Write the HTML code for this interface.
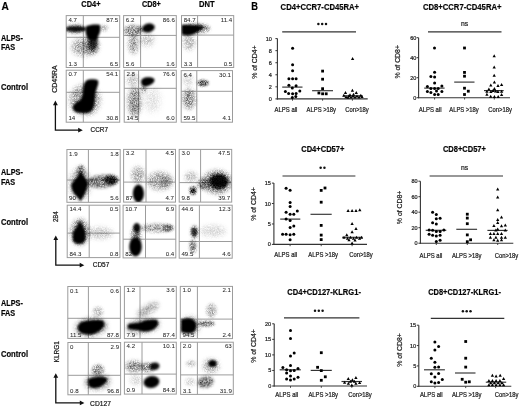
<!DOCTYPE html>
<html><head><meta charset="utf-8"><title>Figure</title>
<style>html,body{margin:0;padding:0;background:#fff;width:520px;height:407px;overflow:hidden}
svg{display:block;font-family:"Liberation Sans",sans-serif;filter:blur(0.3px)}
text{stroke:#222;stroke-width:0.22px}
text.num{stroke-width:0.05px}</style></head>
<body>
<svg width="520" height="407" viewBox="0 0 520 407" font-family="Liberation Sans, sans-serif"><defs><clipPath id="c0"><rect x="66.2" y="15.6" width="53.5" height="51.9"/></clipPath><clipPath id="c1"><rect x="123.6" y="15.6" width="52.7" height="51.9"/></clipPath><clipPath id="c2"><rect x="181.5" y="15.6" width="52.2" height="51.9"/></clipPath><clipPath id="c3"><rect x="66.2" y="70.2" width="53.5" height="52"/></clipPath><clipPath id="c4"><rect x="124.2" y="70.2" width="52.1" height="52"/></clipPath><clipPath id="c5"><rect x="181.2" y="70.6" width="51.3" height="51.6"/></clipPath><clipPath id="c6"><rect x="66.9" y="149.5" width="53.3" height="52.8"/></clipPath><clipPath id="c7"><rect x="123.6" y="149.4" width="51.9" height="52.7"/></clipPath><clipPath id="c8"><rect x="179.2" y="149.4" width="52.5" height="52.7"/></clipPath><clipPath id="c9"><rect x="67.2" y="205.2" width="52.7" height="52.4"/></clipPath><clipPath id="c10"><rect x="123.1" y="205.2" width="52.7" height="52.7"/></clipPath><clipPath id="c11"><rect x="179.2" y="205.2" width="53" height="53"/></clipPath><clipPath id="c12"><rect x="67.8" y="286.5" width="52.6" height="51.9"/></clipPath><clipPath id="c13"><rect x="124.4" y="286.4" width="51.9" height="52.2"/></clipPath><clipPath id="c14"><rect x="180.3" y="286.4" width="52.2" height="52.2"/></clipPath><clipPath id="c15"><rect x="67.9" y="342.5" width="52.7" height="52.3"/></clipPath><clipPath id="c16"><rect x="124.4" y="342.2" width="51.9" height="51.9"/></clipPath><clipPath id="c17"><rect x="180.6" y="342.2" width="52.7" height="52.2"/></clipPath><filter id="n1_0" x="-100%" y="-100%" width="300%" height="300%" color-interpolation-filters="sRGB"><feGaussianBlur in="SourceGraphic" stdDeviation="1" result="b"/><feTurbulence type="fractalNoise" baseFrequency="2.6" numOctaves="2" seed="10" result="t"/><feColorMatrix in="t" type="matrix" values="0 0 0 0 0 0 0 0 0 0 0 0 0 0 0 1.8 0 0 0 -0.3" result="ta"/><feComposite in="b" in2="ta" operator="in" result="c"/><feGaussianBlur in="c" stdDeviation="0.4"/></filter><filter id="n1_2" x="-100%" y="-100%" width="300%" height="300%" color-interpolation-filters="sRGB"><feGaussianBlur in="SourceGraphic" stdDeviation="1.2" result="b"/><feTurbulence type="fractalNoise" baseFrequency="2.6" numOctaves="2" seed="12" result="t"/><feColorMatrix in="t" type="matrix" values="0 0 0 0 0 0 0 0 0 0 0 0 0 0 0 1.8 0 0 0 -0.3" result="ta"/><feComposite in="b" in2="ta" operator="in" result="c"/><feGaussianBlur in="c" stdDeviation="0.4"/></filter><filter id="n1_3" x="-100%" y="-100%" width="300%" height="300%" color-interpolation-filters="sRGB"><feGaussianBlur in="SourceGraphic" stdDeviation="1.3" result="b"/><feTurbulence type="fractalNoise" baseFrequency="2.6" numOctaves="2" seed="13" result="t"/><feColorMatrix in="t" type="matrix" values="0 0 0 0 0 0 0 0 0 0 0 0 0 0 0 1.8 0 0 0 -0.3" result="ta"/><feComposite in="b" in2="ta" operator="in" result="c"/><feGaussianBlur in="c" stdDeviation="0.4"/></filter><filter id="n1_5" x="-100%" y="-100%" width="300%" height="300%" color-interpolation-filters="sRGB"><feGaussianBlur in="SourceGraphic" stdDeviation="1.5" result="b"/><feTurbulence type="fractalNoise" baseFrequency="2.6" numOctaves="2" seed="15" result="t"/><feColorMatrix in="t" type="matrix" values="0 0 0 0 0 0 0 0 0 0 0 0 0 0 0 1.8 0 0 0 -0.3" result="ta"/><feComposite in="b" in2="ta" operator="in" result="c"/><feGaussianBlur in="c" stdDeviation="0.4"/></filter><filter id="n1_8" x="-100%" y="-100%" width="300%" height="300%" color-interpolation-filters="sRGB"><feGaussianBlur in="SourceGraphic" stdDeviation="1.8" result="b"/><feTurbulence type="fractalNoise" baseFrequency="2.6" numOctaves="2" seed="18" result="t"/><feColorMatrix in="t" type="matrix" values="0 0 0 0 0 0 0 0 0 0 0 0 0 0 0 1.8 0 0 0 -0.3" result="ta"/><feComposite in="b" in2="ta" operator="in" result="c"/><feGaussianBlur in="c" stdDeviation="0.4"/></filter><filter id="n2_0" x="-100%" y="-100%" width="300%" height="300%" color-interpolation-filters="sRGB"><feGaussianBlur in="SourceGraphic" stdDeviation="2" result="b"/><feTurbulence type="fractalNoise" baseFrequency="2.6" numOctaves="2" seed="20" result="t"/><feColorMatrix in="t" type="matrix" values="0 0 0 0 0 0 0 0 0 0 0 0 0 0 0 1.8 0 0 0 -0.3" result="ta"/><feComposite in="b" in2="ta" operator="in" result="c"/><feGaussianBlur in="c" stdDeviation="0.4"/></filter><filter id="n2_2" x="-100%" y="-100%" width="300%" height="300%" color-interpolation-filters="sRGB"><feGaussianBlur in="SourceGraphic" stdDeviation="2.2" result="b"/><feTurbulence type="fractalNoise" baseFrequency="2.6" numOctaves="2" seed="22" result="t"/><feColorMatrix in="t" type="matrix" values="0 0 0 0 0 0 0 0 0 0 0 0 0 0 0 1.8 0 0 0 -0.3" result="ta"/><feComposite in="b" in2="ta" operator="in" result="c"/><feGaussianBlur in="c" stdDeviation="0.4"/></filter><filter id="n2_5" x="-100%" y="-100%" width="300%" height="300%" color-interpolation-filters="sRGB"><feGaussianBlur in="SourceGraphic" stdDeviation="2.5" result="b"/><feTurbulence type="fractalNoise" baseFrequency="2.6" numOctaves="2" seed="25" result="t"/><feColorMatrix in="t" type="matrix" values="0 0 0 0 0 0 0 0 0 0 0 0 0 0 0 1.8 0 0 0 -0.3" result="ta"/><feComposite in="b" in2="ta" operator="in" result="c"/><feGaussianBlur in="c" stdDeviation="0.4"/></filter><filter id="n3_0" x="-100%" y="-100%" width="300%" height="300%" color-interpolation-filters="sRGB"><feGaussianBlur in="SourceGraphic" stdDeviation="3" result="b"/><feTurbulence type="fractalNoise" baseFrequency="2.6" numOctaves="2" seed="30" result="t"/><feColorMatrix in="t" type="matrix" values="0 0 0 0 0 0 0 0 0 0 0 0 0 0 0 1.8 0 0 0 -0.3" result="ta"/><feComposite in="b" in2="ta" operator="in" result="c"/><feGaussianBlur in="c" stdDeviation="0.4"/></filter><filter id="b0_8" x="-100%" y="-100%" width="300%" height="300%"><feGaussianBlur stdDeviation="0.8"/></filter><filter id="b0_9" x="-100%" y="-100%" width="300%" height="300%"><feGaussianBlur stdDeviation="0.9"/></filter><filter id="b1_0" x="-100%" y="-100%" width="300%" height="300%"><feGaussianBlur stdDeviation="1"/></filter><filter id="b1_1" x="-100%" y="-100%" width="300%" height="300%"><feGaussianBlur stdDeviation="1.1"/></filter><filter id="b1_2" x="-100%" y="-100%" width="300%" height="300%"><feGaussianBlur stdDeviation="1.2"/></filter><filter id="b1_5" x="-100%" y="-100%" width="300%" height="300%"><feGaussianBlur stdDeviation="1.5"/></filter><filter id="b1_6" x="-100%" y="-100%" width="300%" height="300%"><feGaussianBlur stdDeviation="1.6"/></filter><filter id="b2_0" x="-100%" y="-100%" width="300%" height="300%"><feGaussianBlur stdDeviation="2"/></filter></defs><rect width="520" height="407" fill="#fff"/><g style="will-change:transform"><text x="1.6" y="9.5" font-size="11.6" font-weight="bold" text-anchor="start" fill="#000" textLength="7.3" lengthAdjust="spacingAndGlyphs">A</text>
<text x="251.2" y="9.6" font-size="11.6" font-weight="bold" text-anchor="start" fill="#000" textLength="6.7" lengthAdjust="spacingAndGlyphs">B</text>
<text x="90.9" y="7.3" font-size="8.4" font-weight="bold" text-anchor="middle" fill="#000" textLength="19.2" lengthAdjust="spacingAndGlyphs">CD4+</text>
<text x="151.3" y="7.3" font-size="8.4" font-weight="bold" text-anchor="middle" fill="#000" textLength="18.8" lengthAdjust="spacingAndGlyphs">CD8+</text>
<text x="206.8" y="7.3" font-size="8.4" font-weight="bold" text-anchor="middle" fill="#000" textLength="15.6" lengthAdjust="spacingAndGlyphs">DNT</text>
<text x="1" y="40.8" font-size="8.2" font-weight="bold" text-anchor="start" fill="#000" textLength="21.8" lengthAdjust="spacingAndGlyphs">ALPS-</text>
<text x="1" y="50.1" font-size="8.2" font-weight="bold" text-anchor="start" fill="#000" textLength="14.2" lengthAdjust="spacingAndGlyphs">FAS</text>
<text x="1" y="175.3" font-size="8.2" font-weight="bold" text-anchor="start" fill="#000" textLength="21.8" lengthAdjust="spacingAndGlyphs">ALPS-</text>
<text x="1" y="184.6" font-size="8.2" font-weight="bold" text-anchor="start" fill="#000" textLength="14.2" lengthAdjust="spacingAndGlyphs">FAS</text>
<text x="1" y="306.4" font-size="8.2" font-weight="bold" text-anchor="start" fill="#000" textLength="21.8" lengthAdjust="spacingAndGlyphs">ALPS-</text>
<text x="1" y="315.7" font-size="8.2" font-weight="bold" text-anchor="start" fill="#000" textLength="14.2" lengthAdjust="spacingAndGlyphs">FAS</text>
<text x="1" y="90.2" font-size="8.2" font-weight="bold" text-anchor="start" fill="#000" textLength="27" lengthAdjust="spacingAndGlyphs">Control</text>
<text x="1" y="225" font-size="8.2" font-weight="bold" text-anchor="start" fill="#000" textLength="27" lengthAdjust="spacingAndGlyphs">Control</text>
<text x="1" y="356.7" font-size="8.2" font-weight="bold" text-anchor="start" fill="#000" textLength="27" lengthAdjust="spacingAndGlyphs">Control</text>
<rect x="66.2" y="15.6" width="53.5" height="51.9" fill="none" stroke="#9c9c9c" stroke-width="1"/>
<line x1="83.3" y1="15.6" x2="83.3" y2="67.5" stroke="#9c9c9c" stroke-width="1"/>
<line x1="66.2" y1="37.3" x2="119.7" y2="37.3" stroke="#9c9c9c" stroke-width="1"/>
<g clip-path="url(#c0)">
<ellipse cx="83" cy="47" rx="11" ry="9" fill="#000" fill-opacity="0.45" filter="url(#n2_5)"/>
<ellipse cx="92" cy="46" rx="6.5" ry="8" fill="#000" fill-opacity="0.8" filter="url(#n2_0)"/>
<ellipse cx="75" cy="29" rx="10" ry="5" fill="#000" fill-opacity="0.45" filter="url(#n1_5)"/>
<ellipse cx="76" cy="28.9" rx="10.5" ry="3" fill="#000" fill-opacity="0.92" filter="url(#b1_0)"/>
<ellipse cx="104" cy="28" rx="4" ry="3" fill="#000" fill-opacity="0.35" filter="url(#n1_5)"/>
<ellipse cx="93" cy="43" rx="4.5" ry="6.5" fill="#000" fill-opacity="0.75" filter="url(#b1_6)"/>
<path d="M86.5 26 C90 24.5 96 24 99.5 24.8 C101 26 100.5 31 99.5 33.5 C98.5 35.5 97.5 38 97 40 C94 41.5 90 40.5 88 39 C86 36 85.3 32 85.5 28 Z" fill="#000" fill-opacity="1" filter="url(#b1_0)"/>
</g>
<text x="68.4" y="21.6" font-size="6.15" text-anchor="start" fill="#2a2a2a" class="num">4.7</text>
<text x="118.2" y="21.6" font-size="6.15" text-anchor="end" fill="#2a2a2a" class="num">87.5</text>
<text x="68.4" y="65.6" font-size="6.15" text-anchor="start" fill="#2a2a2a" class="num">1.3</text>
<text x="118.2" y="65.6" font-size="6.15" text-anchor="end" fill="#2a2a2a" class="num">6.5</text>
<rect x="123.6" y="15.6" width="52.7" height="51.9" fill="none" stroke="#9c9c9c" stroke-width="1"/>
<line x1="140.6" y1="15.6" x2="140.6" y2="67.5" stroke="#9c9c9c" stroke-width="1"/>
<line x1="123.6" y1="35.4" x2="176.3" y2="35.4" stroke="#9c9c9c" stroke-width="1"/>
<g clip-path="url(#c1)">
<ellipse cx="133" cy="30.5" rx="9" ry="5.5" fill="#000" fill-opacity="0.6" filter="url(#n1_8)"/>
<ellipse cx="133.5" cy="44" rx="4.5" ry="10" fill="#000" fill-opacity="0.55" filter="url(#n2_0)"/>
<ellipse cx="147" cy="40" rx="7" ry="6" fill="#000" fill-opacity="0.3" filter="url(#n2_5)"/>
<ellipse cx="140" cy="29" rx="4" ry="3" fill="#000" fill-opacity="0.5" filter="url(#n1_5)"/>
<ellipse cx="148.4" cy="28" rx="6.5" ry="4.4" fill="#000" fill-opacity="1" filter="url(#b0_9)" transform="rotate(-15 148.4 28)"/>
</g>
<text x="125.8" y="21.6" font-size="6.15" text-anchor="start" fill="#2a2a2a" class="num">6.2</text>
<text x="174.8" y="21.6" font-size="6.15" text-anchor="end" fill="#2a2a2a" class="num">86.6</text>
<text x="125.8" y="65.6" font-size="6.15" text-anchor="start" fill="#2a2a2a" class="num">5.6</text>
<text x="174.8" y="65.6" font-size="6.15" text-anchor="end" fill="#2a2a2a" class="num">1.6</text>
<rect x="181.5" y="15.6" width="52.2" height="51.9" fill="none" stroke="#9c9c9c" stroke-width="1"/>
<line x1="197.6" y1="15.6" x2="197.6" y2="67.5" stroke="#9c9c9c" stroke-width="1"/>
<line x1="181.5" y1="35.1" x2="233.7" y2="35.1" stroke="#9c9c9c" stroke-width="1"/>
<g clip-path="url(#c2)">
<ellipse cx="196" cy="28.5" rx="14" ry="5" fill="#000" fill-opacity="0.6" filter="url(#n1_8)"/>
<ellipse cx="189" cy="42" rx="6" ry="8" fill="#000" fill-opacity="0.35" filter="url(#n2_0)"/>
<path d="M181.6 24.8 C188 24.5 195 24.8 201 25.6 C204 26.5 205 27.5 203 28.5 C200 30 198 31.5 196 33 C193 34.5 190 35.3 187.8 35.5 C184 35.3 182 34.5 181.6 33.9 Z" fill="#000" fill-opacity="1" filter="url(#b1_1)"/>
</g>
<text x="183.7" y="21.6" font-size="6.15" text-anchor="start" fill="#2a2a2a" class="num">84.7</text>
<text x="232.2" y="21.6" font-size="6.15" text-anchor="end" fill="#2a2a2a" class="num">11.4</text>
<text x="183.7" y="65.6" font-size="6.15" text-anchor="start" fill="#2a2a2a" class="num">3.3</text>
<text x="232.2" y="65.6" font-size="6.15" text-anchor="end" fill="#2a2a2a" class="num">0.5</text>
<rect x="66.2" y="70.2" width="53.5" height="52" fill="none" stroke="#9c9c9c" stroke-width="1"/>
<line x1="83.3" y1="70.2" x2="83.3" y2="122.2" stroke="#9c9c9c" stroke-width="1"/>
<line x1="66.2" y1="92.3" x2="119.7" y2="92.3" stroke="#9c9c9c" stroke-width="1"/>
<g clip-path="url(#c3)">
<ellipse cx="85" cy="100" rx="15" ry="15" fill="#000" fill-opacity="0.5" filter="url(#n2_5)"/>
<path d="M84.5 83 C85.5 81 87 80 88 79.8 C90 79.3 92 79.2 94 79.3 C96 79.5 97.5 79.8 98 80.5 C98.6 82 98.3 84 97.8 85.5 C97 87.5 96.2 89.5 95.8 91.5 C95.3 95 95 99 94.6 102.5 C94.2 106 93.5 108.5 92 110.5 C90 112.5 88 113 86 113.2 C83 113.4 80 113.2 77.5 112.6 C75.5 112 74 111 73.3 109.8 C72.5 108 72.6 106 74 104.5 C75.5 102.8 78 101.3 80 100 C81.5 98.5 82.4 96 82.8 93 C83.1 90 83.3 87 83.6 85 Z" fill="#000" fill-opacity="1" filter="url(#b1_0)"/>
</g>
<text x="68.4" y="76.2" font-size="6.15" text-anchor="start" fill="#2a2a2a" class="num">0.7</text>
<text x="118.2" y="76.2" font-size="6.15" text-anchor="end" fill="#2a2a2a" class="num">54.1</text>
<text x="68.4" y="120.3" font-size="6.15" text-anchor="start" fill="#2a2a2a" class="num">14</text>
<text x="118.2" y="120.3" font-size="6.15" text-anchor="end" fill="#2a2a2a" class="num">30.8</text>
<rect x="124.2" y="70.2" width="52.1" height="52" fill="none" stroke="#9c9c9c" stroke-width="1"/>
<line x1="138.6" y1="70.2" x2="138.6" y2="122.2" stroke="#9c9c9c" stroke-width="1"/>
<line x1="124.2" y1="88.3" x2="176.3" y2="88.3" stroke="#9c9c9c" stroke-width="1"/>
<g clip-path="url(#c4)">
<ellipse cx="133" cy="80" rx="6" ry="6" fill="#000" fill-opacity="0.3" filter="url(#n2_0)"/>
<ellipse cx="134.5" cy="102" rx="6.5" ry="15" fill="#000" fill-opacity="0.55" filter="url(#n2_2)"/>
<ellipse cx="134.5" cy="103" rx="2.5" ry="11" fill="#000" fill-opacity="0.2" filter="url(#b2_0)"/>
<ellipse cx="143.5" cy="89" rx="3" ry="4" fill="#000" fill-opacity="0.5" filter="url(#n1_5)"/>
<ellipse cx="152" cy="100" rx="8" ry="12" fill="#000" fill-opacity="0.15" filter="url(#n3_0)"/>
<path d="M141.2 80.5 C142 78.5 144.5 77.5 147 77.3 C150 77 153 77.5 154.3 79 C155 80.5 154 82.5 152.5 83.5 C150.5 85 148 86 145.5 86.5 C143.5 86.8 142 85.5 141.5 84 C141 82.8 141 81.5 141.2 80.5 Z" fill="#000" fill-opacity="1" filter="url(#b0_9)"/>
</g>
<text x="126.4" y="76.2" font-size="6.15" text-anchor="start" fill="#2a2a2a" class="num">2.8</text>
<text x="174.8" y="76.2" font-size="6.15" text-anchor="end" fill="#2a2a2a" class="num">76.6</text>
<text x="126.4" y="120.3" font-size="6.15" text-anchor="start" fill="#2a2a2a" class="num">14.5</text>
<text x="174.8" y="120.3" font-size="6.15" text-anchor="end" fill="#2a2a2a" class="num">6.0</text>
<rect x="181.2" y="70.6" width="51.3" height="51.6" fill="none" stroke="#9c9c9c" stroke-width="1"/>
<line x1="196.8" y1="70.6" x2="196.8" y2="122.2" stroke="#9c9c9c" stroke-width="1"/>
<line x1="181.2" y1="91.3" x2="232.5" y2="91.3" stroke="#9c9c9c" stroke-width="1"/>
<g clip-path="url(#c5)">
<ellipse cx="203" cy="83" rx="6" ry="3.2" fill="#000" fill-opacity="0.85" filter="url(#n1_3)"/>
<ellipse cx="203" cy="83" rx="2.5" ry="1.5" fill="#000" fill-opacity="0.4" filter="url(#b1_0)"/>
<ellipse cx="189" cy="99" rx="6" ry="10" fill="#000" fill-opacity="0.65" filter="url(#n2_2)"/>
<ellipse cx="188" cy="80" rx="5" ry="6" fill="#000" fill-opacity="0.2" filter="url(#n2_0)"/>
</g>
<text x="183.4" y="76.6" font-size="6.15" text-anchor="start" fill="#2a2a2a" class="num">6.4</text>
<text x="231" y="76.6" font-size="6.15" text-anchor="end" fill="#2a2a2a" class="num">30.1</text>
<text x="183.4" y="120.3" font-size="6.15" text-anchor="start" fill="#2a2a2a" class="num">59.5</text>
<text x="231" y="120.3" font-size="6.15" text-anchor="end" fill="#2a2a2a" class="num">4.1</text>
<rect x="66.9" y="149.5" width="53.3" height="52.8" fill="none" stroke="#9c9c9c" stroke-width="1"/>
<line x1="88.4" y1="149.5" x2="88.4" y2="202.3" stroke="#9c9c9c" stroke-width="1"/>
<line x1="66.9" y1="180" x2="120.2" y2="180" stroke="#9c9c9c" stroke-width="1"/>
<g clip-path="url(#c6)">
<ellipse cx="80" cy="184" rx="10" ry="16" fill="#000" fill-opacity="0.4" filter="url(#n2_5)"/>
<ellipse cx="81" cy="172" rx="4" ry="7" fill="#000" fill-opacity="0.7" filter="url(#n1_5)"/>
<ellipse cx="102" cy="181.5" rx="15" ry="6.5" fill="#000" fill-opacity="0.8" filter="url(#n1_8)" transform="rotate(-4 102 181.5)"/>
<ellipse cx="111" cy="180" rx="7" ry="5" fill="#000" fill-opacity="0.95" filter="url(#n1_5)"/>
<ellipse cx="111" cy="180" rx="6" ry="3.5" fill="#000" fill-opacity="0.5" filter="url(#b1_5)"/>
<path d="M80.6 170.5 C81.7 173.5 83.3 175.8 85 177.3 C86.6 179.8 88.2 182.5 88.1 184.5 C87.3 188 86.2 190.3 85.2 193 C83.6 196.3 82.3 198.5 80.6 201 C78.8 198.5 76.6 196.3 73.6 193 C72.3 190.3 71 187 71.2 184.8 C72.8 181.8 75 179.3 76.9 177.3 C78.3 175.8 79.5 173.5 80.6 170.5 Z" fill="#000" fill-opacity="1" filter="url(#b0_9)"/>
</g>
<text x="69.1" y="155.5" font-size="6.15" text-anchor="start" fill="#2a2a2a" class="num">1.9</text>
<text x="118.7" y="155.5" font-size="6.15" text-anchor="end" fill="#2a2a2a" class="num">1.8</text>
<text x="69.1" y="200.4" font-size="6.15" text-anchor="start" fill="#2a2a2a" class="num">90</text>
<text x="118.7" y="200.4" font-size="6.15" text-anchor="end" fill="#2a2a2a" class="num">5.6</text>
<rect x="123.6" y="149.4" width="51.9" height="52.7" fill="none" stroke="#9c9c9c" stroke-width="1"/>
<line x1="146" y1="149.4" x2="146" y2="202.1" stroke="#9c9c9c" stroke-width="1"/>
<line x1="123.6" y1="182.1" x2="175.5" y2="182.1" stroke="#9c9c9c" stroke-width="1"/>
<g clip-path="url(#c7)">
<ellipse cx="138" cy="175" rx="6" ry="8" fill="#000" fill-opacity="0.45" filter="url(#n2_0)"/>
<ellipse cx="160" cy="181" rx="13" ry="9" fill="#000" fill-opacity="0.45" filter="url(#n2_2)"/>
<ellipse cx="165" cy="182" rx="6" ry="6" fill="#000" fill-opacity="0.3" filter="url(#n1_5)"/>
<ellipse cx="138.4" cy="193.5" rx="5.6" ry="9" fill="#000" fill-opacity="1" filter="url(#b0_9)"/>
</g>
<text x="125.8" y="155.4" font-size="6.15" text-anchor="start" fill="#2a2a2a" class="num">3.2</text>
<text x="174" y="155.4" font-size="6.15" text-anchor="end" fill="#2a2a2a" class="num">4.5</text>
<text x="125.8" y="200.2" font-size="6.15" text-anchor="start" fill="#2a2a2a" class="num">87</text>
<text x="174" y="200.2" font-size="6.15" text-anchor="end" fill="#2a2a2a" class="num">4.7</text>
<rect x="179.2" y="149.4" width="52.5" height="52.7" fill="none" stroke="#9c9c9c" stroke-width="1"/>
<line x1="200.6" y1="149.4" x2="200.6" y2="202.1" stroke="#9c9c9c" stroke-width="1"/>
<line x1="179.2" y1="182.6" x2="231.7" y2="182.6" stroke="#9c9c9c" stroke-width="1"/>
<g clip-path="url(#c8)">
<ellipse cx="217" cy="182" rx="15" ry="11.5" fill="#000" fill-opacity="0.6" filter="url(#n2_0)"/>
<ellipse cx="204" cy="184" rx="7" ry="6" fill="#000" fill-opacity="0.6" filter="url(#n1_8)"/>
<ellipse cx="191" cy="177" rx="6" ry="5" fill="#000" fill-opacity="0.35" filter="url(#n2_0)"/>
<ellipse cx="218.5" cy="181.5" rx="10" ry="8" fill="#000" fill-opacity="1" filter="url(#n1_3)"/>
<ellipse cx="219" cy="181.5" rx="8.5" ry="6.5" fill="#000" fill-opacity="0.9" filter="url(#b1_5)"/>
<ellipse cx="193" cy="190.5" rx="3.5" ry="4.2" fill="#000" fill-opacity="1" filter="url(#n1_0)"/>
<ellipse cx="193.3" cy="190.5" rx="1.8" ry="2.4" fill="#000" fill-opacity="0.6" filter="url(#b0_9)"/>
</g>
<text x="181.4" y="155.4" font-size="6.15" text-anchor="start" fill="#2a2a2a" class="num">3.0</text>
<text x="230.2" y="155.4" font-size="6.15" text-anchor="end" fill="#2a2a2a" class="num">47.5</text>
<text x="181.4" y="200.2" font-size="6.15" text-anchor="start" fill="#2a2a2a" class="num">9.8</text>
<text x="230.2" y="200.2" font-size="6.15" text-anchor="end" fill="#2a2a2a" class="num">39.7</text>
<rect x="67.2" y="205.2" width="52.7" height="52.4" fill="none" stroke="#9c9c9c" stroke-width="1"/>
<line x1="89.2" y1="205.2" x2="89.2" y2="257.6" stroke="#9c9c9c" stroke-width="1"/>
<line x1="67.2" y1="233.1" x2="119.9" y2="233.1" stroke="#9c9c9c" stroke-width="1"/>
<g clip-path="url(#c9)">
<ellipse cx="80" cy="232" rx="9" ry="13" fill="#000" fill-opacity="0.6" filter="url(#n2_0)"/>
<ellipse cx="100" cy="233" rx="13" ry="6" fill="#000" fill-opacity="0.25" filter="url(#n2_0)"/>
<path d="M79.5 220.2 C80.5 221.5 81.5 223 82.2 224.3 C83.5 227 85 230 85.6 233 C86 236 85.5 239 84.9 241.2 C83 243.5 81 244 78.8 243.9 C76.5 243.8 74.5 243 73.4 241.8 C72.5 239 72.5 236 72.8 233.7 C74 230 76 227.5 77.5 225.6 C78.3 224 79 222 79.5 220.2 Z" fill="#000" fill-opacity="1" filter="url(#b0_8)"/>
</g>
<text x="69.4" y="211.2" font-size="6.15" text-anchor="start" fill="#2a2a2a" class="num">14.4</text>
<text x="118.4" y="211.2" font-size="6.15" text-anchor="end" fill="#2a2a2a" class="num">0.5</text>
<text x="69.4" y="255.7" font-size="6.15" text-anchor="start" fill="#2a2a2a" class="num">84.3</text>
<text x="118.4" y="255.7" font-size="6.15" text-anchor="end" fill="#2a2a2a" class="num">0.8</text>
<rect x="123.1" y="205.2" width="52.7" height="52.7" fill="none" stroke="#9c9c9c" stroke-width="1"/>
<line x1="145.5" y1="205.2" x2="145.5" y2="257.9" stroke="#9c9c9c" stroke-width="1"/>
<line x1="123.1" y1="239.2" x2="175.8" y2="239.2" stroke="#9c9c9c" stroke-width="1"/>
<g clip-path="url(#c10)">
<ellipse cx="157" cy="228" rx="17" ry="4.2" fill="#000" fill-opacity="0.5" filter="url(#n1_5)"/>
<ellipse cx="168" cy="228" rx="5" ry="3.5" fill="#000" fill-opacity="0.7" filter="url(#n1_2)"/>
<ellipse cx="136" cy="236" rx="5" ry="10" fill="#000" fill-opacity="0.6" filter="url(#n1_8)"/>
<ellipse cx="136.8" cy="227.8" rx="3.6" ry="4.8" fill="#000" fill-opacity="0.95" filter="url(#b1_0)"/>
<ellipse cx="137" cy="235" rx="1.8" ry="4" fill="#000" fill-opacity="0.5" filter="url(#b1_2)"/>
<ellipse cx="135.5" cy="246.8" rx="6.3" ry="9.5" fill="#000" fill-opacity="1" filter="url(#b0_9)"/>
</g>
<text x="125.3" y="211.2" font-size="6.15" text-anchor="start" fill="#2a2a2a" class="num">10.7</text>
<text x="174.3" y="211.2" font-size="6.15" text-anchor="end" fill="#2a2a2a" class="num">6.9</text>
<text x="125.3" y="256" font-size="6.15" text-anchor="start" fill="#2a2a2a" class="num">82</text>
<text x="174.3" y="256" font-size="6.15" text-anchor="end" fill="#2a2a2a" class="num">0.4</text>
<rect x="179.2" y="205.2" width="53" height="53" fill="none" stroke="#9c9c9c" stroke-width="1"/>
<line x1="199.4" y1="205.2" x2="199.4" y2="258.2" stroke="#9c9c9c" stroke-width="1"/>
<line x1="179.2" y1="241.5" x2="232.2" y2="241.5" stroke="#9c9c9c" stroke-width="1"/>
<g clip-path="url(#c11)">
<ellipse cx="194.3" cy="232" rx="3.5" ry="6.5" fill="#000" fill-opacity="0.8" filter="url(#n1_5)"/>
<ellipse cx="194.3" cy="232" rx="2.5" ry="4" fill="#000" fill-opacity="0.8" filter="url(#b1_0)"/>
<ellipse cx="193" cy="246.5" rx="3.2" ry="6.5" fill="#000" fill-opacity="0.75" filter="url(#n1_5)"/>
<ellipse cx="213" cy="231" rx="13" ry="6" fill="#000" fill-opacity="0.18" filter="url(#n2_0)"/>
</g>
<text x="181.4" y="211.2" font-size="6.15" text-anchor="start" fill="#2a2a2a" class="num">44.6</text>
<text x="230.7" y="211.2" font-size="6.15" text-anchor="end" fill="#2a2a2a" class="num">12.3</text>
<text x="181.4" y="256.3" font-size="6.15" text-anchor="start" fill="#2a2a2a" class="num">49.5</text>
<text x="230.7" y="256.3" font-size="6.15" text-anchor="end" fill="#2a2a2a" class="num">4.6</text>
<rect x="67.8" y="286.5" width="52.6" height="51.9" fill="none" stroke="#9c9c9c" stroke-width="1"/>
<line x1="88.4" y1="286.5" x2="88.4" y2="338.4" stroke="#9c9c9c" stroke-width="1"/>
<line x1="67.8" y1="318.3" x2="120.4" y2="318.3" stroke="#9c9c9c" stroke-width="1"/>
<g clip-path="url(#c12)">
<ellipse cx="91" cy="327" rx="16" ry="9" fill="#000" fill-opacity="0.6" filter="url(#n2_0)" transform="rotate(-6 91 327)"/>
<ellipse cx="98" cy="312" rx="5" ry="5" fill="#000" fill-opacity="0.35" filter="url(#n1_8)"/>
<path d="M 77.5 327.0 C 78.5 324.7 79.9 322.8 81.7 321.9 C 85.0 320.8 88.2 320.4 91.0 320.2 C 94.8 320.0 98.5 319.8 101.3 320.1 C 103.4 320.8 104.6 322.4 104.5 324.0 C 104.1 326.6 102.2 328.9 99.9 330.6 C 97.1 332.6 93.8 334.5 90.6 334.8 C 86.8 334.8 83.6 334.1 81.3 333.1 C 78.9 331.7 77.6 329.3 77.5 327.0 Z" fill="#000" fill-opacity="1" filter="url(#b1_0)"/>
</g>
<text x="70" y="292.5" font-size="6.15" text-anchor="start" fill="#2a2a2a" class="num">0.1</text>
<text x="118.9" y="292.5" font-size="6.15" text-anchor="end" fill="#2a2a2a" class="num">0.6</text>
<text x="70" y="336.5" font-size="6.15" text-anchor="start" fill="#2a2a2a" class="num">11.5</text>
<text x="118.9" y="336.5" font-size="6.15" text-anchor="end" fill="#2a2a2a" class="num">87.8</text>
<rect x="124.4" y="286.4" width="51.9" height="52.2" fill="none" stroke="#9c9c9c" stroke-width="1"/>
<line x1="140" y1="286.4" x2="140" y2="338.6" stroke="#9c9c9c" stroke-width="1"/>
<line x1="124.4" y1="318.3" x2="176.3" y2="318.3" stroke="#9c9c9c" stroke-width="1"/>
<g clip-path="url(#c13)">
<ellipse cx="148" cy="309.5" rx="12" ry="4.5" fill="#000" fill-opacity="0.45" filter="url(#n2_0)" transform="rotate(-30 148 309.5)"/>
<ellipse cx="143" cy="326" rx="17" ry="7.5" fill="#000" fill-opacity="0.45" filter="url(#n2_0)" transform="rotate(-8 143 326)"/>
<path d="M127.5 326 C128 324.5 129 323.7 130.5 323.5 C133 323.2 137 323 140 322.3 C142 321.5 144 320.5 146.5 320 C149.5 319.4 153 319.2 155.5 319.6 C157.5 320 158.6 321.8 158.3 323.5 C157.8 325.5 156.5 327 155 328.3 C153 330 150 331.2 147 331.6 C144 331.9 141 331 138.5 330.3 C135 329.8 131 329.6 129 329 C127.8 328.3 127.4 327.2 127.5 326 Z" fill="#000" fill-opacity="1" filter="url(#b1_0)"/>
</g>
<text x="126.6" y="292.4" font-size="6.15" text-anchor="start" fill="#2a2a2a" class="num">1.2</text>
<text x="174.8" y="292.4" font-size="6.15" text-anchor="end" fill="#2a2a2a" class="num">3.6</text>
<text x="126.6" y="336.7" font-size="6.15" text-anchor="start" fill="#2a2a2a" class="num">7.9</text>
<text x="174.8" y="336.7" font-size="6.15" text-anchor="end" fill="#2a2a2a" class="num">87.4</text>
<rect x="180.3" y="286.4" width="52.2" height="52.2" fill="none" stroke="#9c9c9c" stroke-width="1"/>
<line x1="197.4" y1="286.4" x2="197.4" y2="338.6" stroke="#9c9c9c" stroke-width="1"/>
<line x1="180.3" y1="319.1" x2="232.5" y2="319.1" stroke="#9c9c9c" stroke-width="1"/>
<g clip-path="url(#c14)">
<ellipse cx="190" cy="326" rx="10" ry="10" fill="#000" fill-opacity="0.35" filter="url(#n2_0)"/>
<ellipse cx="206" cy="323.8" rx="9" ry="2.8" fill="#000" fill-opacity="0.7" filter="url(#n1_2)"/>
<ellipse cx="211.5" cy="310.5" rx="5" ry="7" fill="#000" fill-opacity="0.4" filter="url(#n1_8)"/>
<path d="M181 319.5 C184 318.5 188 318 191 318.5 C194 319.5 196.5 322 196.6 325.5 C196.5 329 195 332 192 333.1 C188 333.6 184 333 181 332 Z" fill="#000" fill-opacity="1" filter="url(#b0_9)"/>
</g>
<text x="182.5" y="292.4" font-size="6.15" text-anchor="start" fill="#2a2a2a" class="num">1.0</text>
<text x="231" y="292.4" font-size="6.15" text-anchor="end" fill="#2a2a2a" class="num">2.1</text>
<text x="182.5" y="336.7" font-size="6.15" text-anchor="start" fill="#2a2a2a" class="num">94.5</text>
<text x="231" y="336.7" font-size="6.15" text-anchor="end" fill="#2a2a2a" class="num">2.4</text>
<rect x="67.9" y="342.5" width="52.7" height="52.3" fill="none" stroke="#9c9c9c" stroke-width="1"/>
<line x1="88.3" y1="342.5" x2="88.3" y2="394.8" stroke="#9c9c9c" stroke-width="1"/>
<line x1="67.9" y1="375.3" x2="120.6" y2="375.3" stroke="#9c9c9c" stroke-width="1"/>
<g clip-path="url(#c15)">
<ellipse cx="98" cy="370" rx="6" ry="5.5" fill="#000" fill-opacity="0.6" filter="url(#n1_8)"/>
<ellipse cx="97.5" cy="382" rx="13" ry="8" fill="#000" fill-opacity="0.5" filter="url(#n2_0)" transform="rotate(-6 97.5 382)"/>
<path d="M88 379.9 C89 378.8 90.5 378.2 92.1 377.8 C95 377 98 376.6 100.4 376.5 C102.5 376.6 104.5 377 105.9 377.8 C107 378.5 107.5 379.5 107.3 380.6 C106.5 382.5 104.5 384 102.5 385.4 C100.5 386.8 98 387.8 95.6 388.1 C93 388 91 387.5 89.4 386.8 C88.3 385 87.8 382 88 379.9 Z" fill="#000" fill-opacity="1" filter="url(#b0_8)"/>
</g>
<text x="70.1" y="348.5" font-size="6.15" text-anchor="start" fill="#2a2a2a" class="num">0</text>
<text x="119.1" y="348.5" font-size="6.15" text-anchor="end" fill="#2a2a2a" class="num">2.9</text>
<text x="70.1" y="392.9" font-size="6.15" text-anchor="start" fill="#2a2a2a" class="num">0.8</text>
<text x="119.1" y="392.9" font-size="6.15" text-anchor="end" fill="#2a2a2a" class="num">96.8</text>
<rect x="124.4" y="342.2" width="51.9" height="51.9" fill="none" stroke="#9c9c9c" stroke-width="1"/>
<line x1="142" y1="342.2" x2="142" y2="394.1" stroke="#9c9c9c" stroke-width="1"/>
<line x1="124.4" y1="374.1" x2="176.3" y2="374.1" stroke="#9c9c9c" stroke-width="1"/>
<g clip-path="url(#c16)">
<ellipse cx="134" cy="366.5" rx="8" ry="5" fill="#000" fill-opacity="0.7" filter="url(#n2_0)"/>
<ellipse cx="147" cy="367.5" rx="8" ry="4.5" fill="#000" fill-opacity="0.6" filter="url(#n1_8)"/>
<ellipse cx="136" cy="380" rx="6" ry="5" fill="#000" fill-opacity="0.2" filter="url(#n2_0)"/>
<ellipse cx="154.5" cy="366.3" rx="5" ry="3.8" fill="#000" fill-opacity="0.95" filter="url(#b1_0)" transform="rotate(-10 154.5 366.3)"/>
<ellipse cx="151.5" cy="382" rx="8" ry="6" fill="#000" fill-opacity="1" filter="url(#b0_9)" transform="rotate(-10 151.5 382)"/>
</g>
<text x="126.6" y="348.2" font-size="6.15" text-anchor="start" fill="#2a2a2a" class="num">4.2</text>
<text x="174.8" y="348.2" font-size="6.15" text-anchor="end" fill="#2a2a2a" class="num">10.1</text>
<text x="126.6" y="392.2" font-size="6.15" text-anchor="start" fill="#2a2a2a" class="num">0.9</text>
<text x="174.8" y="392.2" font-size="6.15" text-anchor="end" fill="#2a2a2a" class="num">84.8</text>
<rect x="180.6" y="342.2" width="52.7" height="52.2" fill="none" stroke="#9c9c9c" stroke-width="1"/>
<line x1="197.4" y1="342.2" x2="197.4" y2="394.4" stroke="#9c9c9c" stroke-width="1"/>
<line x1="180.6" y1="374.9" x2="233.3" y2="374.9" stroke="#9c9c9c" stroke-width="1"/>
<g clip-path="url(#c17)">
<ellipse cx="211" cy="366" rx="8" ry="7" fill="#000" fill-opacity="0.4" filter="url(#n2_0)"/>
<ellipse cx="205.5" cy="382" rx="8" ry="5.5" fill="#000" fill-opacity="0.85" filter="url(#n1_5)" transform="rotate(-10 205.5 382)"/>
<ellipse cx="191" cy="363.5" rx="5" ry="3" fill="#000" fill-opacity="0.3" filter="url(#n1_8)"/>
<ellipse cx="190" cy="382" rx="5" ry="4" fill="#000" fill-opacity="0.2" filter="url(#n1_8)"/>
<ellipse cx="212.5" cy="363.6" rx="4.2" ry="3.5" fill="#000" fill-opacity="1" filter="url(#b1_0)"/>
</g>
<text x="182.8" y="348.2" font-size="6.15" text-anchor="start" fill="#2a2a2a" class="num">2.0</text>
<text x="231.8" y="348.2" font-size="6.15" text-anchor="end" fill="#2a2a2a" class="num">63</text>
<text x="182.8" y="392.5" font-size="6.15" text-anchor="start" fill="#2a2a2a" class="num">3.1</text>
<text x="231.8" y="392.5" font-size="6.15" text-anchor="end" fill="#2a2a2a" class="num">31.9</text>
<path d="M55.4 103.6 V130.2 H79.8" fill="none" stroke="#111" stroke-width="1.3"/>
<path d="M55.4 100.6 L53 105.2 L57.8 105.2 Z" fill="#111"/>
<path d="M82.8 130.2 L78.2 127.8 L78.2 132.6 Z" fill="#111"/>
<text x="57.2" y="79" font-size="6.6" text-anchor="middle" fill="#111" transform="rotate(-90 57.2 79)" textLength="27.3" lengthAdjust="spacingAndGlyphs">CD45RA</text>
<text x="90.6" y="132.3" font-size="6.9" text-anchor="start" fill="#111" textLength="17.4" lengthAdjust="spacingAndGlyphs">CCR7</text>
<path d="M55.8 238.4 V265.2 H81.3" fill="none" stroke="#111" stroke-width="1.3"/>
<path d="M55.8 235.4 L53.4 240 L58.2 240 Z" fill="#111"/>
<path d="M84.3 265.2 L79.7 262.8 L79.7 267.6 Z" fill="#111"/>
<text x="58" y="216.7" font-size="6.8" text-anchor="middle" fill="#111" transform="rotate(-90 58 216.7)" textLength="10.8" lengthAdjust="spacingAndGlyphs">2B4</text>
<text x="92.7" y="267.4" font-size="6.9" text-anchor="start" fill="#111" textLength="16.6" lengthAdjust="spacingAndGlyphs">CD57</text>
<path d="M55.8 376.2 V402.9 H81.4" fill="none" stroke="#111" stroke-width="1.3"/>
<path d="M55.8 373.2 L53.4 377.8 L58.2 377.8 Z" fill="#111"/>
<path d="M84.4 402.9 L79.8 400.5 L79.8 405.3 Z" fill="#111"/>
<text x="58.6" y="351.8" font-size="6.8" text-anchor="middle" fill="#111" transform="rotate(-90 58.6 351.8)" textLength="21.2" lengthAdjust="spacingAndGlyphs">KLRG1</text>
<text x="90.1" y="405.7" font-size="7" text-anchor="start" fill="#111" textLength="20.8" lengthAdjust="spacingAndGlyphs">CD127</text>
<text x="319.85" y="9.6" font-size="8.3" font-weight="bold" text-anchor="middle" fill="#000" textLength="78.5" lengthAdjust="spacingAndGlyphs">CD4+CCR7-CD45RA+</text>
<circle cx="318.4" cy="23.9" r="1.25" fill="#111"/>
<circle cx="322.2" cy="23.9" r="1.25" fill="#111"/>
<circle cx="326" cy="23.9" r="1.25" fill="#111"/>
<line x1="282.2" y1="31.8" x2="356" y2="31.8" stroke="#333" stroke-width="1.2"/>
<line x1="277.4" y1="38.6" x2="277.4" y2="99.4" stroke="#333" stroke-width="1.1"/>
<line x1="276.9" y1="98.9" x2="367.7" y2="98.9" stroke="#333" stroke-width="1.1"/>
<line x1="275.4" y1="98.9" x2="277.4" y2="98.9" stroke="#333" stroke-width="1"/>
<text x="271.8" y="100.9" font-size="5.5" text-anchor="end" fill="#222">0</text>
<line x1="275.4" y1="86.84" x2="277.4" y2="86.84" stroke="#333" stroke-width="1"/>
<text x="271.8" y="88.84" font-size="5.5" text-anchor="end" fill="#222">2</text>
<line x1="275.4" y1="74.78" x2="277.4" y2="74.78" stroke="#333" stroke-width="1"/>
<text x="271.8" y="76.78" font-size="5.5" text-anchor="end" fill="#222">4</text>
<line x1="275.4" y1="62.72" x2="277.4" y2="62.72" stroke="#333" stroke-width="1"/>
<text x="271.8" y="64.72" font-size="5.5" text-anchor="end" fill="#222">6</text>
<line x1="275.4" y1="50.66" x2="277.4" y2="50.66" stroke="#333" stroke-width="1"/>
<text x="271.8" y="52.66" font-size="5.5" text-anchor="end" fill="#222">8</text>
<line x1="275.4" y1="38.6" x2="277.4" y2="38.6" stroke="#333" stroke-width="1"/>
<text x="271.8" y="40.6" font-size="5.5" text-anchor="end" fill="#222">10</text>
<line x1="292.5" y1="98.9" x2="292.5" y2="100.7" stroke="#333" stroke-width="0.9"/>
<line x1="322.6" y1="98.9" x2="322.6" y2="100.7" stroke="#333" stroke-width="0.9"/>
<line x1="352.4" y1="98.9" x2="352.4" y2="100.7" stroke="#333" stroke-width="0.9"/>
<text x="256.8" y="62.1" font-size="6.9" text-anchor="middle" fill="#222" transform="rotate(-90 256.8 62.1)">% of CD4+</text>
<text x="286" y="112.3" font-size="6.4" text-anchor="middle" fill="#222" textLength="22.8" lengthAdjust="spacingAndGlyphs">ALPS all</text>
<text x="321.3" y="112.3" font-size="6.4" text-anchor="middle" fill="#222" textLength="29.5" lengthAdjust="spacingAndGlyphs">ALPS &gt;18y</text>
<text x="357" y="112.3" font-size="6.4" text-anchor="middle" fill="#222" textLength="23.6" lengthAdjust="spacingAndGlyphs">Con&gt;18y</text>
<line x1="282.2" y1="87.1" x2="302.5" y2="87.1" stroke="#333" stroke-width="1.15"/>
<line x1="312.1" y1="90.7" x2="333" y2="90.7" stroke="#333" stroke-width="1.15"/>
<line x1="343" y1="95.8" x2="362.5" y2="95.8" stroke="#333" stroke-width="1.15"/>
<circle cx="292.6" cy="48.3" r="1.5" fill="#000"/>
<circle cx="292.6" cy="64.8" r="1.5" fill="#000"/>
<circle cx="292.6" cy="70.8" r="1.5" fill="#000"/>
<circle cx="288.9" cy="78.8" r="1.5" fill="#000"/>
<circle cx="292.6" cy="78.8" r="1.5" fill="#000"/>
<circle cx="296.1" cy="78.8" r="1.5" fill="#000"/>
<circle cx="288.9" cy="85.2" r="1.5" fill="#000"/>
<circle cx="296.1" cy="85.8" r="1.5" fill="#000"/>
<circle cx="292.3" cy="88" r="1.5" fill="#000"/>
<circle cx="285.4" cy="91.4" r="1.5" fill="#000"/>
<circle cx="299.8" cy="91.1" r="1.5" fill="#000"/>
<circle cx="288.6" cy="93.5" r="1.5" fill="#000"/>
<circle cx="292.6" cy="93.8" r="1.5" fill="#000"/>
<circle cx="296.1" cy="93.5" r="1.5" fill="#000"/>
<circle cx="292.3" cy="97.6" r="1.5" fill="#000"/>
<circle cx="295.8" cy="96.4" r="1.5" fill="#000"/>
<rect x="321.2" y="69.7" width="2.8" height="2.8" fill="#000"/>
<rect x="321.2" y="77.8" width="2.8" height="2.8" fill="#000"/>
<rect x="321.2" y="87.3" width="2.8" height="2.8" fill="#000"/>
<rect x="317.5" y="91.6" width="2.8" height="2.8" fill="#000"/>
<rect x="321.2" y="92.4" width="2.8" height="2.8" fill="#000"/>
<rect x="324.8" y="92.4" width="2.8" height="2.8" fill="#000"/>
<path d="M352.6 57.02 L350.95 59.99 L354.25 59.99 Z" fill="#000"/>
<path d="M352.4 88.82 L350.75 91.79 L354.05 91.79 Z" fill="#000"/>
<path d="M345.5 90.92 L343.85 93.89 L347.15 93.89 Z" fill="#000"/>
<path d="M356.3 91.12 L354.65 94.09 L357.95 94.09 Z" fill="#000"/>
<path d="M343.8 93.72 L342.15 96.69 L345.45 96.69 Z" fill="#000"/>
<path d="M360.8 93.72 L359.15 96.69 L362.45 96.69 Z" fill="#000"/>
<path d="M346 95.22 L344.35 98.19 L347.65 98.19 Z" fill="#000"/>
<path d="M349 94.22 L347.35 97.19 L350.65 97.19 Z" fill="#000"/>
<path d="M351 95.52 L349.35 98.49 L352.65 98.49 Z" fill="#000"/>
<path d="M353 94.42 L351.35 97.39 L354.65 97.39 Z" fill="#000"/>
<path d="M355 95.52 L353.35 98.49 L356.65 98.49 Z" fill="#000"/>
<path d="M357 94.52 L355.35 97.49 L358.65 97.49 Z" fill="#000"/>
<path d="M359 95.42 L357.35 98.39 L360.65 98.39 Z" fill="#000"/>
<path d="M348 95.82 L346.35 98.79 L349.65 98.79 Z" fill="#000"/>
<path d="M353.5 92.72 L351.85 95.69 L355.15 95.69 Z" fill="#000"/>
<path d="M362 95.02 L360.35 97.99 L363.65 97.99 Z" fill="#000"/>
<path d="M350 93.22 L348.35 96.19 L351.65 96.19 Z" fill="#000"/>
<text x="462.2" y="9.6" font-size="8.3" font-weight="bold" text-anchor="middle" fill="#000" textLength="78.6" lengthAdjust="spacingAndGlyphs">CD8+CCR7-CD45RA+</text>
<text x="464.6" y="25.6" font-size="6.8" text-anchor="middle" fill="#222">ns</text>
<line x1="428" y1="31.9" x2="501.5" y2="31.9" stroke="#333" stroke-width="1.2"/>
<line x1="418.6" y1="37.7" x2="418.6" y2="98.2" stroke="#333" stroke-width="1.1"/>
<line x1="418.1" y1="97.7" x2="510" y2="97.7" stroke="#333" stroke-width="1.1"/>
<line x1="416.6" y1="97.7" x2="418.6" y2="97.7" stroke="#333" stroke-width="1"/>
<text x="416.4" y="99.7" font-size="5.5" text-anchor="end" fill="#222">0</text>
<line x1="416.6" y1="77.7" x2="418.6" y2="77.7" stroke="#333" stroke-width="1"/>
<text x="416.4" y="79.7" font-size="5.5" text-anchor="end" fill="#222">20</text>
<line x1="416.6" y1="57.7" x2="418.6" y2="57.7" stroke="#333" stroke-width="1"/>
<text x="416.4" y="59.7" font-size="5.5" text-anchor="end" fill="#222">40</text>
<line x1="416.6" y1="37.7" x2="418.6" y2="37.7" stroke="#333" stroke-width="1"/>
<text x="416.4" y="39.7" font-size="5.5" text-anchor="end" fill="#222">60</text>
<line x1="434.6" y1="97.7" x2="434.6" y2="99.5" stroke="#333" stroke-width="0.9"/>
<line x1="464.6" y1="97.7" x2="464.6" y2="99.5" stroke="#333" stroke-width="0.9"/>
<line x1="494.3" y1="97.7" x2="494.3" y2="99.5" stroke="#333" stroke-width="0.9"/>
<text x="400.5" y="61.8" font-size="6.9" text-anchor="middle" fill="#222" transform="rotate(-90 400.5 61.8)">% of CD8+</text>
<text x="430.1" y="111.6" font-size="6.4" text-anchor="middle" fill="#222" textLength="22.8" lengthAdjust="spacingAndGlyphs">ALPS all</text>
<text x="464" y="111.6" font-size="6.4" text-anchor="middle" fill="#222" textLength="29.5" lengthAdjust="spacingAndGlyphs">ALPS &gt;18y</text>
<text x="500.1" y="111.6" font-size="6.4" text-anchor="middle" fill="#222" textLength="23.6" lengthAdjust="spacingAndGlyphs">Con&gt;18y</text>
<line x1="424.2" y1="88.1" x2="444.6" y2="88.1" stroke="#333" stroke-width="1.15"/>
<line x1="454.2" y1="82.1" x2="474.5" y2="82.1" stroke="#333" stroke-width="1.15"/>
<line x1="484" y1="90.6" x2="503.7" y2="90.6" stroke="#333" stroke-width="1.15"/>
<circle cx="434.5" cy="48" r="1.5" fill="#000"/>
<circle cx="434.6" cy="72.3" r="1.5" fill="#000"/>
<circle cx="430.9" cy="76.4" r="1.5" fill="#000"/>
<circle cx="434.6" cy="76.9" r="1.5" fill="#000"/>
<circle cx="434.6" cy="83" r="1.5" fill="#000"/>
<circle cx="427.4" cy="86.5" r="1.5" fill="#000"/>
<circle cx="441.9" cy="85.9" r="1.5" fill="#000"/>
<circle cx="430.9" cy="88.6" r="1.5" fill="#000"/>
<circle cx="434.6" cy="88.6" r="1.5" fill="#000"/>
<circle cx="438.2" cy="88.4" r="1.5" fill="#000"/>
<circle cx="436.5" cy="90.9" r="1.5" fill="#000"/>
<circle cx="427.4" cy="91.5" r="1.5" fill="#000"/>
<circle cx="430.9" cy="92.6" r="1.5" fill="#000"/>
<circle cx="441.9" cy="91.5" r="1.5" fill="#000"/>
<circle cx="434.6" cy="94.4" r="1.5" fill="#000"/>
<circle cx="438.2" cy="94.4" r="1.5" fill="#000"/>
<rect x="463.1" y="46.6" width="2.8" height="2.8" fill="#000"/>
<rect x="463.1" y="71" width="2.8" height="2.8" fill="#000"/>
<rect x="463.1" y="74.8" width="2.8" height="2.8" fill="#000"/>
<rect x="463.1" y="86.8" width="2.8" height="2.8" fill="#000"/>
<rect x="466.9" y="89.8" width="2.8" height="2.8" fill="#000"/>
<rect x="463.1" y="93.1" width="2.8" height="2.8" fill="#000"/>
<path d="M494.2 54.32 L492.55 57.29 L495.85 57.29 Z" fill="#000"/>
<path d="M494.2 65.62 L492.55 68.59 L495.85 68.59 Z" fill="#000"/>
<path d="M494.2 73.72 L492.55 76.69 L495.85 76.69 Z" fill="#000"/>
<path d="M494.4 80.52 L492.75 83.49 L496.05 83.49 Z" fill="#000"/>
<path d="M490.8 83.42 L489.15 86.39 L492.45 86.39 Z" fill="#000"/>
<path d="M498 84.02 L496.35 86.99 L499.65 86.99 Z" fill="#000"/>
<path d="M501.6 83.12 L499.95 86.09 L503.25 86.09 Z" fill="#000"/>
<path d="M488.9 87.52 L487.25 90.49 L490.55 90.49 Z" fill="#000"/>
<path d="M494.4 86.92 L492.75 89.89 L496.05 89.89 Z" fill="#000"/>
<path d="M486.9 89.82 L485.25 92.79 L488.55 92.79 Z" fill="#000"/>
<path d="M490.9 90.02 L489.25 92.99 L492.55 92.99 Z" fill="#000"/>
<path d="M493 88.92 L491.35 91.89 L494.65 91.89 Z" fill="#000"/>
<path d="M495.6 89.52 L493.95 92.49 L497.25 92.49 Z" fill="#000"/>
<path d="M497.9 90.02 L496.25 92.99 L499.55 92.99 Z" fill="#000"/>
<path d="M501.6 89.82 L499.95 92.79 L503.25 92.79 Z" fill="#000"/>
<path d="M486.9 92.72 L485.25 95.69 L488.55 95.69 Z" fill="#000"/>
<path d="M501.6 92.92 L499.95 95.89 L503.25 95.89 Z" fill="#000"/>
<path d="M490.7 94.72 L489.05 97.69 L492.35 97.69 Z" fill="#000"/>
<path d="M494.4 95.02 L492.75 97.99 L496.05 97.99 Z" fill="#000"/>
<path d="M498.2 95.02 L496.55 97.99 L499.85 97.99 Z" fill="#000"/>
<text x="322.8" y="151.5" font-size="8.3" font-weight="bold" text-anchor="middle" fill="#000" textLength="43.2" lengthAdjust="spacingAndGlyphs">CD4+CD57+</text>
<circle cx="320.65" cy="167.7" r="1.25" fill="#111"/>
<circle cx="324.45" cy="167.7" r="1.25" fill="#111"/>
<line x1="282.5" y1="176" x2="355.4" y2="176" stroke="#333" stroke-width="1.2"/>
<line x1="273.9" y1="183.1" x2="273.9" y2="244.9" stroke="#333" stroke-width="1.1"/>
<line x1="273.4" y1="244.4" x2="367" y2="244.4" stroke="#333" stroke-width="1.1"/>
<line x1="271.9" y1="244.4" x2="273.9" y2="244.4" stroke="#333" stroke-width="1"/>
<text x="270.9" y="246.4" font-size="5.5" text-anchor="end" fill="#222">0</text>
<line x1="271.9" y1="223.97" x2="273.9" y2="223.97" stroke="#333" stroke-width="1"/>
<text x="270.9" y="225.97" font-size="5.5" text-anchor="end" fill="#222">5</text>
<line x1="271.9" y1="203.53" x2="273.9" y2="203.53" stroke="#333" stroke-width="1"/>
<text x="270.9" y="205.53" font-size="5.5" text-anchor="end" fill="#222">10</text>
<line x1="271.9" y1="183.1" x2="273.9" y2="183.1" stroke="#333" stroke-width="1"/>
<text x="270.9" y="185.1" font-size="5.5" text-anchor="end" fill="#222">15</text>
<line x1="290.1" y1="244.4" x2="290.1" y2="246.2" stroke="#333" stroke-width="0.9"/>
<line x1="321.2" y1="244.4" x2="321.2" y2="246.2" stroke="#333" stroke-width="0.9"/>
<line x1="352.1" y1="244.4" x2="352.1" y2="246.2" stroke="#333" stroke-width="0.9"/>
<text x="256.2" y="204" font-size="6.9" text-anchor="middle" fill="#222" transform="rotate(-90 256.2 204)">% of CD4+</text>
<text x="285.7" y="256.8" font-size="6.4" text-anchor="middle" fill="#222" textLength="22.8" lengthAdjust="spacingAndGlyphs">ALPS all</text>
<text x="323.1" y="256.8" font-size="6.4" text-anchor="middle" fill="#222" textLength="29.5" lengthAdjust="spacingAndGlyphs">ALPS &gt;18y</text>
<text x="361" y="256.8" font-size="6.4" text-anchor="middle" fill="#222" textLength="23.6" lengthAdjust="spacingAndGlyphs">Con&gt;18y</text>
<line x1="280.2" y1="219.1" x2="300.3" y2="219.1" stroke="#333" stroke-width="1.15"/>
<line x1="310.5" y1="214.3" x2="331.7" y2="214.3" stroke="#333" stroke-width="1.15"/>
<line x1="342.1" y1="237.3" x2="362.6" y2="237.3" stroke="#333" stroke-width="1.15"/>
<circle cx="286.1" cy="188.3" r="1.5" fill="#000"/>
<circle cx="290.1" cy="190.2" r="1.5" fill="#000"/>
<circle cx="290.1" cy="202.4" r="1.5" fill="#000"/>
<circle cx="290.1" cy="206.4" r="1.5" fill="#000"/>
<circle cx="286.1" cy="212.3" r="1.5" fill="#000"/>
<circle cx="297.3" cy="210.9" r="1.5" fill="#000"/>
<circle cx="290.1" cy="214.2" r="1.5" fill="#000"/>
<circle cx="293.8" cy="214.2" r="1.5" fill="#000"/>
<circle cx="286.1" cy="219.1" r="1.5" fill="#000"/>
<circle cx="290.1" cy="220.5" r="1.5" fill="#000"/>
<circle cx="290.1" cy="227.4" r="1.5" fill="#000"/>
<circle cx="293.8" cy="226" r="1.5" fill="#000"/>
<circle cx="282.6" cy="234.3" r="1.5" fill="#000"/>
<circle cx="286.1" cy="234.3" r="1.5" fill="#000"/>
<circle cx="290.1" cy="234.8" r="1.5" fill="#000"/>
<circle cx="293.8" cy="234.3" r="1.5" fill="#000"/>
<circle cx="290.1" cy="239.8" r="1.5" fill="#000"/>
<rect x="319.8" y="189" width="2.8" height="2.8" fill="#000"/>
<rect x="323.6" y="186.6" width="2.8" height="2.8" fill="#000"/>
<rect x="319.8" y="200.8" width="2.8" height="2.8" fill="#000"/>
<rect x="319.8" y="224" width="2.8" height="2.8" fill="#000"/>
<rect x="319.8" y="233.7" width="2.8" height="2.8" fill="#000"/>
<rect x="319.8" y="238.2" width="2.8" height="2.8" fill="#000"/>
<path d="M348.1 209.12 L346.45 212.09 L349.75 212.09 Z" fill="#000"/>
<path d="M352.1 209.12 L350.45 212.09 L353.75 212.09 Z" fill="#000"/>
<path d="M356 209.12 L354.35 212.09 L357.65 212.09 Z" fill="#000"/>
<path d="M359.8 208.32 L358.15 211.29 L361.45 211.29 Z" fill="#000"/>
<path d="M352.1 222.02 L350.45 224.99 L353.75 224.99 Z" fill="#000"/>
<path d="M356 227.02 L354.35 229.99 L357.65 229.99 Z" fill="#000"/>
<path d="M352.1 230.32 L350.45 233.29 L353.75 233.29 Z" fill="#000"/>
<path d="M346.8 233.32 L345.15 236.29 L348.45 236.29 Z" fill="#000"/>
<path d="M344 235.72 L342.35 238.69 L345.65 238.69 Z" fill="#000"/>
<path d="M347.5 236.72 L345.85 239.69 L349.15 239.69 Z" fill="#000"/>
<path d="M350.5 235.72 L348.85 238.69 L352.15 238.69 Z" fill="#000"/>
<path d="M353.5 236.72 L351.85 239.69 L355.15 239.69 Z" fill="#000"/>
<path d="M356.5 235.72 L354.85 238.69 L358.15 238.69 Z" fill="#000"/>
<path d="M359.5 236.72 L357.85 239.69 L361.15 239.69 Z" fill="#000"/>
<path d="M361.5 235.72 L359.85 238.69 L363.15 238.69 Z" fill="#000"/>
<path d="M352.1 241.42 L350.45 244.39 L353.75 244.39 Z" fill="#000"/>
<path d="M349 238.22 L347.35 241.19 L350.65 241.19 Z" fill="#000"/>
<path d="M355 238.42 L353.35 241.39 L356.65 241.39 Z" fill="#000"/>
<text x="464.4" y="151.7" font-size="8.3" font-weight="bold" text-anchor="middle" fill="#000" textLength="43" lengthAdjust="spacingAndGlyphs">CD8+CD57+</text>
<text x="464.5" y="169.8" font-size="6.8" text-anchor="middle" fill="#222">ns</text>
<line x1="429.6" y1="176" x2="503" y2="176" stroke="#333" stroke-width="1.2"/>
<line x1="420.4" y1="181.2" x2="420.4" y2="243.7" stroke="#333" stroke-width="1.1"/>
<line x1="419.9" y1="243.2" x2="513.3" y2="243.2" stroke="#333" stroke-width="1.1"/>
<line x1="418.4" y1="243.2" x2="420.4" y2="243.2" stroke="#333" stroke-width="1"/>
<text x="417.6" y="245.2" font-size="5.5" text-anchor="end" fill="#222">0</text>
<line x1="418.4" y1="227.7" x2="420.4" y2="227.7" stroke="#333" stroke-width="1"/>
<text x="417.6" y="229.7" font-size="5.5" text-anchor="end" fill="#222">20</text>
<line x1="418.4" y1="212.2" x2="420.4" y2="212.2" stroke="#333" stroke-width="1"/>
<text x="417.6" y="214.2" font-size="5.5" text-anchor="end" fill="#222">40</text>
<line x1="418.4" y1="196.7" x2="420.4" y2="196.7" stroke="#333" stroke-width="1"/>
<text x="417.6" y="198.7" font-size="5.5" text-anchor="end" fill="#222">60</text>
<line x1="418.4" y1="181.2" x2="420.4" y2="181.2" stroke="#333" stroke-width="1"/>
<text x="417.6" y="183.2" font-size="5.5" text-anchor="end" fill="#222">80</text>
<line x1="436.3" y1="243.2" x2="436.3" y2="245" stroke="#333" stroke-width="0.9"/>
<line x1="467.3" y1="243.2" x2="467.3" y2="245" stroke="#333" stroke-width="0.9"/>
<line x1="497.7" y1="243.2" x2="497.7" y2="245" stroke="#333" stroke-width="0.9"/>
<text x="402" y="207.4" font-size="6.9" text-anchor="middle" fill="#222" transform="rotate(-90 402 207.4)">% of CD8+</text>
<text x="430.9" y="257.8" font-size="6.4" text-anchor="middle" fill="#222" textLength="22.8" lengthAdjust="spacingAndGlyphs">ALPS all</text>
<text x="466.7" y="257.8" font-size="6.4" text-anchor="middle" fill="#222" textLength="29.5" lengthAdjust="spacingAndGlyphs">ALPS &gt;18y</text>
<text x="506.5" y="257.8" font-size="6.4" text-anchor="middle" fill="#222" textLength="23.6" lengthAdjust="spacingAndGlyphs">Con&gt;18y</text>
<line x1="425.7" y1="230.3" x2="446.3" y2="230.3" stroke="#333" stroke-width="1.15"/>
<line x1="456.3" y1="229.3" x2="477.1" y2="229.3" stroke="#333" stroke-width="1.15"/>
<line x1="487.4" y1="230.4" x2="507.6" y2="230.4" stroke="#333" stroke-width="1.15"/>
<circle cx="432.6" cy="212.2" r="1.5" fill="#000"/>
<circle cx="436.3" cy="214.5" r="1.5" fill="#000"/>
<circle cx="436.3" cy="218.7" r="1.5" fill="#000"/>
<circle cx="440.1" cy="218.2" r="1.5" fill="#000"/>
<circle cx="432.6" cy="222.8" r="1.5" fill="#000"/>
<circle cx="436.3" cy="224.1" r="1.5" fill="#000"/>
<circle cx="429.1" cy="230.1" r="1.5" fill="#000"/>
<circle cx="432.6" cy="230.3" r="1.5" fill="#000"/>
<circle cx="436.3" cy="231.6" r="1.5" fill="#000"/>
<circle cx="440.1" cy="231.6" r="1.5" fill="#000"/>
<circle cx="443.9" cy="230.1" r="1.5" fill="#000"/>
<circle cx="429.1" cy="234.2" r="1.5" fill="#000"/>
<circle cx="432.6" cy="235.2" r="1.5" fill="#000"/>
<circle cx="436.3" cy="236" r="1.5" fill="#000"/>
<circle cx="440.1" cy="235.2" r="1.5" fill="#000"/>
<circle cx="440.1" cy="240.3" r="1.5" fill="#000"/>
<circle cx="436.3" cy="241.6" r="1.5" fill="#000"/>
<rect x="465.9" y="212.8" width="2.8" height="2.8" fill="#000"/>
<rect x="465.9" y="216.7" width="2.8" height="2.8" fill="#000"/>
<rect x="465.9" y="222.3" width="2.8" height="2.8" fill="#000"/>
<rect x="465.9" y="233.5" width="2.8" height="2.8" fill="#000"/>
<rect x="469.2" y="238.4" width="2.8" height="2.8" fill="#000"/>
<rect x="465.9" y="240.3" width="2.8" height="2.8" fill="#000"/>
<path d="M497.7 187.52 L496.05 190.49 L499.35 190.49 Z" fill="#000"/>
<path d="M497.7 195.42 L496.05 198.39 L499.35 198.39 Z" fill="#000"/>
<path d="M497.7 208.32 L496.05 211.29 L499.35 211.29 Z" fill="#000"/>
<path d="M497.7 217.92 L496.05 220.89 L499.35 220.89 Z" fill="#000"/>
<path d="M501.5 215.62 L499.85 218.59 L503.15 218.59 Z" fill="#000"/>
<path d="M497.7 221.02 L496.05 223.99 L499.35 223.99 Z" fill="#000"/>
<path d="M493.9 224.02 L492.25 226.99 L495.55 226.99 Z" fill="#000"/>
<path d="M501.5 224.32 L499.85 227.29 L503.15 227.29 Z" fill="#000"/>
<path d="M505.3 223.62 L503.65 226.59 L506.95 226.59 Z" fill="#000"/>
<path d="M497.7 227.42 L496.05 230.39 L499.35 230.39 Z" fill="#000"/>
<path d="M495.9 228.62 L494.25 231.59 L497.55 231.59 Z" fill="#000"/>
<path d="M505.3 228.62 L503.65 231.59 L506.95 231.59 Z" fill="#000"/>
<path d="M490.4 231.92 L488.75 234.89 L492.05 234.89 Z" fill="#000"/>
<path d="M493.9 231.92 L492.25 234.89 L495.55 234.89 Z" fill="#000"/>
<path d="M497.7 231.92 L496.05 234.89 L499.35 234.89 Z" fill="#000"/>
<path d="M501.5 231.92 L499.85 234.89 L503.15 234.89 Z" fill="#000"/>
<path d="M490.4 235.72 L488.75 238.69 L492.05 238.69 Z" fill="#000"/>
<path d="M495.9 235.72 L494.25 238.69 L497.55 238.69 Z" fill="#000"/>
<path d="M501.5 235.72 L499.85 238.69 L503.15 238.69 Z" fill="#000"/>
<path d="M505.3 235.72 L503.65 238.69 L506.95 238.69 Z" fill="#000"/>
<path d="M493.9 238.22 L492.25 241.19 L495.55 241.19 Z" fill="#000"/>
<path d="M497.7 238.72 L496.05 241.69 L499.35 241.69 Z" fill="#000"/>
<path d="M501.5 238.22 L499.85 241.19 L503.15 241.19 Z" fill="#000"/>
<text x="324.1" y="294.5" font-size="8.3" font-weight="bold" text-anchor="middle" fill="#000" textLength="73.6" lengthAdjust="spacingAndGlyphs">CD4+CD127-KLRG1-</text>
<circle cx="315" cy="310.7" r="1.25" fill="#111"/>
<circle cx="318.8" cy="310.7" r="1.25" fill="#111"/>
<circle cx="322.6" cy="310.7" r="1.25" fill="#111"/>
<line x1="284" y1="317.8" x2="359.4" y2="317.8" stroke="#333" stroke-width="1.2"/>
<line x1="274.2" y1="323.8" x2="274.2" y2="386.5" stroke="#333" stroke-width="1.1"/>
<line x1="273.7" y1="386" x2="367" y2="386" stroke="#333" stroke-width="1.1"/>
<line x1="272.2" y1="386" x2="274.2" y2="386" stroke="#333" stroke-width="1"/>
<text x="271.2" y="388" font-size="5.5" text-anchor="end" fill="#222">0</text>
<line x1="272.2" y1="370.45" x2="274.2" y2="370.45" stroke="#333" stroke-width="1"/>
<text x="271.2" y="372.45" font-size="5.5" text-anchor="end" fill="#222">5</text>
<line x1="272.2" y1="354.9" x2="274.2" y2="354.9" stroke="#333" stroke-width="1"/>
<text x="271.2" y="356.9" font-size="5.5" text-anchor="end" fill="#222">10</text>
<line x1="272.2" y1="339.35" x2="274.2" y2="339.35" stroke="#333" stroke-width="1"/>
<text x="271.2" y="341.35" font-size="5.5" text-anchor="end" fill="#222">15</text>
<line x1="272.2" y1="323.8" x2="274.2" y2="323.8" stroke="#333" stroke-width="1"/>
<text x="271.2" y="325.8" font-size="5.5" text-anchor="end" fill="#222">20</text>
<line x1="290.5" y1="386" x2="290.5" y2="387.8" stroke="#333" stroke-width="0.9"/>
<line x1="321.3" y1="386" x2="321.3" y2="387.8" stroke="#333" stroke-width="0.9"/>
<line x1="351.8" y1="386" x2="351.8" y2="387.8" stroke="#333" stroke-width="0.9"/>
<text x="256.3" y="346" font-size="6.9" text-anchor="middle" fill="#222" transform="rotate(-90 256.3 346)">% of CD4+</text>
<text x="286.7" y="397" font-size="6.4" text-anchor="middle" fill="#222" textLength="22.8" lengthAdjust="spacingAndGlyphs">ALPS all</text>
<text x="323.2" y="397" font-size="6.4" text-anchor="middle" fill="#222" textLength="29.5" lengthAdjust="spacingAndGlyphs">ALPS &gt;18y</text>
<text x="360" y="397" font-size="6.4" text-anchor="middle" fill="#222" textLength="23.6" lengthAdjust="spacingAndGlyphs">Con&gt;18y</text>
<line x1="279.7" y1="369.8" x2="300.8" y2="369.8" stroke="#333" stroke-width="1.15"/>
<line x1="310.7" y1="370.4" x2="331.8" y2="370.4" stroke="#333" stroke-width="1.15"/>
<line x1="341.5" y1="381.5" x2="362" y2="381.5" stroke="#333" stroke-width="1.15"/>
<circle cx="290.5" cy="330.5" r="1.5" fill="#000"/>
<circle cx="290.5" cy="338.6" r="1.5" fill="#000"/>
<circle cx="294.2" cy="352.9" r="1.5" fill="#000"/>
<circle cx="290.5" cy="355.9" r="1.5" fill="#000"/>
<circle cx="290.5" cy="365.6" r="1.5" fill="#000"/>
<circle cx="282.9" cy="367.5" r="1.5" fill="#000"/>
<circle cx="298" cy="368.5" r="1.5" fill="#000"/>
<circle cx="286.6" cy="369.8" r="1.5" fill="#000"/>
<circle cx="290.5" cy="370.7" r="1.5" fill="#000"/>
<circle cx="294.2" cy="370.4" r="1.5" fill="#000"/>
<circle cx="286.6" cy="373" r="1.5" fill="#000"/>
<circle cx="290.5" cy="375.9" r="1.5" fill="#000"/>
<circle cx="298" cy="377.2" r="1.5" fill="#000"/>
<circle cx="286.6" cy="379" r="1.5" fill="#000"/>
<circle cx="290.5" cy="380.1" r="1.5" fill="#000"/>
<circle cx="294.2" cy="379" r="1.5" fill="#000"/>
<rect x="319.9" y="351.3" width="2.8" height="2.8" fill="#000"/>
<rect x="316.2" y="365.9" width="2.8" height="2.8" fill="#000"/>
<rect x="319.9" y="369.2" width="2.8" height="2.8" fill="#000"/>
<rect x="323.9" y="375.4" width="2.8" height="2.8" fill="#000"/>
<rect x="319.9" y="378.9" width="2.8" height="2.8" fill="#000"/>
<path d="M348.3 377.12 L346.65 380.09 L349.95 380.09 Z" fill="#000"/>
<path d="M355.9 376.02 L354.25 378.99 L357.55 378.99 Z" fill="#000"/>
<path d="M352.4 378.32 L350.75 381.29 L354.05 381.29 Z" fill="#000"/>
<path d="M350.4 379.72 L348.75 382.69 L352.05 382.69 Z" fill="#000"/>
<path d="M354.4 379.72 L352.75 382.69 L356.05 382.69 Z" fill="#000"/>
<path d="M344.6 380.72 L342.95 383.69 L346.25 383.69 Z" fill="#000"/>
<path d="M348.4 381.72 L346.75 384.69 L350.05 384.69 Z" fill="#000"/>
<path d="M355.9 381.72 L354.25 384.69 L357.55 384.69 Z" fill="#000"/>
<path d="M359.6 381.02 L357.95 383.99 L361.25 383.99 Z" fill="#000"/>
<path d="M351.8 383.52 L350.15 386.49 L353.45 386.49 Z" fill="#000"/>
<text x="464.55" y="294.7" font-size="8.3" font-weight="bold" text-anchor="middle" fill="#000" textLength="72.7" lengthAdjust="spacingAndGlyphs">CD8+CD127-KLRG1-</text>
<circle cx="462.9" cy="311.3" r="1.25" fill="#111"/>
<circle cx="466.7" cy="311.3" r="1.25" fill="#111"/>
<circle cx="470.5" cy="311.3" r="1.25" fill="#111"/>
<line x1="430.8" y1="318.4" x2="504.3" y2="318.4" stroke="#333" stroke-width="1.2"/>
<line x1="418.8" y1="325.2" x2="418.8" y2="386.8" stroke="#333" stroke-width="1.1"/>
<line x1="418.3" y1="386.3" x2="511.3" y2="386.3" stroke="#333" stroke-width="1.1"/>
<line x1="416.8" y1="386.3" x2="418.8" y2="386.3" stroke="#333" stroke-width="1"/>
<text x="416.2" y="388.3" font-size="5.5" text-anchor="end" fill="#222">0</text>
<line x1="416.8" y1="365.93" x2="418.8" y2="365.93" stroke="#333" stroke-width="1"/>
<text x="416.2" y="367.93" font-size="5.5" text-anchor="end" fill="#222">5</text>
<line x1="416.8" y1="345.57" x2="418.8" y2="345.57" stroke="#333" stroke-width="1"/>
<text x="416.2" y="347.57" font-size="5.5" text-anchor="end" fill="#222">10</text>
<line x1="416.8" y1="325.2" x2="418.8" y2="325.2" stroke="#333" stroke-width="1"/>
<text x="416.2" y="327.2" font-size="5.5" text-anchor="end" fill="#222">15</text>
<line x1="434.9" y1="386.3" x2="434.9" y2="388.1" stroke="#333" stroke-width="0.9"/>
<line x1="465.7" y1="386.3" x2="465.7" y2="388.1" stroke="#333" stroke-width="0.9"/>
<line x1="495.6" y1="386.3" x2="495.6" y2="388.1" stroke="#333" stroke-width="0.9"/>
<text x="402.3" y="349.9" font-size="6.9" text-anchor="middle" fill="#222" transform="rotate(-90 402.3 349.9)">% of CD8+</text>
<text x="431.3" y="397" font-size="6.4" text-anchor="middle" fill="#222" textLength="22.8" lengthAdjust="spacingAndGlyphs">ALPS all</text>
<text x="466.7" y="397" font-size="6.4" text-anchor="middle" fill="#222" textLength="29.5" lengthAdjust="spacingAndGlyphs">ALPS &gt;18y</text>
<text x="506.6" y="397" font-size="6.4" text-anchor="middle" fill="#222" textLength="23.6" lengthAdjust="spacingAndGlyphs">Con&gt;18y</text>
<line x1="424" y1="369.8" x2="444.9" y2="369.8" stroke="#333" stroke-width="1.15"/>
<line x1="455" y1="373" x2="475.5" y2="373" stroke="#333" stroke-width="1.15"/>
<line x1="485.8" y1="382.2" x2="506.2" y2="382.2" stroke="#333" stroke-width="1.15"/>
<circle cx="434.9" cy="342" r="1.5" fill="#000"/>
<circle cx="438.6" cy="346.6" r="1.5" fill="#000"/>
<circle cx="434.9" cy="349.9" r="1.5" fill="#000"/>
<circle cx="431.3" cy="358.3" r="1.5" fill="#000"/>
<circle cx="434.9" cy="362.3" r="1.5" fill="#000"/>
<circle cx="434.9" cy="367.2" r="1.5" fill="#000"/>
<circle cx="438.6" cy="366.9" r="1.5" fill="#000"/>
<circle cx="431.3" cy="373.8" r="1.5" fill="#000"/>
<circle cx="438.6" cy="373.4" r="1.5" fill="#000"/>
<circle cx="434.9" cy="376.9" r="1.5" fill="#000"/>
<circle cx="442.3" cy="379.5" r="1.5" fill="#000"/>
<circle cx="431.3" cy="381.8" r="1.5" fill="#000"/>
<circle cx="434.9" cy="383.1" r="1.5" fill="#000"/>
<circle cx="438.6" cy="382.4" r="1.5" fill="#000"/>
<rect x="464.3" y="340.1" width="2.8" height="2.8" fill="#000"/>
<rect x="464.3" y="356.8" width="2.8" height="2.8" fill="#000"/>
<rect x="464.3" y="365.7" width="2.8" height="2.8" fill="#000"/>
<rect x="460.8" y="377.9" width="2.8" height="2.8" fill="#000"/>
<rect x="464.3" y="380.8" width="2.8" height="2.8" fill="#000"/>
<rect x="467.9" y="380.4" width="2.8" height="2.8" fill="#000"/>
<path d="M492.4 373.72 L490.75 376.69 L494.05 376.69 Z" fill="#000"/>
<path d="M496.1 374.52 L494.45 377.49 L497.75 377.49 Z" fill="#000"/>
<path d="M500.2 373.72 L498.55 376.69 L501.85 376.69 Z" fill="#000"/>
<path d="M503.6 377.12 L501.95 380.09 L505.25 380.09 Z" fill="#000"/>
<path d="M488.9 378.92 L487.25 381.89 L490.55 381.89 Z" fill="#000"/>
<path d="M492.4 378.92 L490.75 381.89 L494.05 381.89 Z" fill="#000"/>
<path d="M496.1 378.92 L494.45 381.89 L497.75 381.89 Z" fill="#000"/>
<path d="M499.9 378.92 L498.25 381.89 L501.55 381.89 Z" fill="#000"/>
<path d="M490.7 381.22 L489.05 384.19 L492.35 384.19 Z" fill="#000"/>
<path d="M494.4 381.22 L492.75 384.19 L496.05 384.19 Z" fill="#000"/>
<path d="M498.2 381.22 L496.55 384.19 L499.85 384.19 Z" fill="#000"/>
<path d="M501.9 381.22 L500.25 384.19 L503.55 384.19 Z" fill="#000"/>
<path d="M488.9 383.22 L487.25 386.19 L490.55 386.19 Z" fill="#000"/>
<path d="M492.4 383.22 L490.75 386.19 L494.05 386.19 Z" fill="#000"/>
<path d="M496.1 383.22 L494.45 386.19 L497.75 386.19 Z" fill="#000"/>
<path d="M499.9 383.22 L498.25 386.19 L501.55 386.19 Z" fill="#000"/>
<path d="M503.6 383.22 L501.95 386.19 L505.25 386.19 Z" fill="#000"/></g></svg>
</body></html>
